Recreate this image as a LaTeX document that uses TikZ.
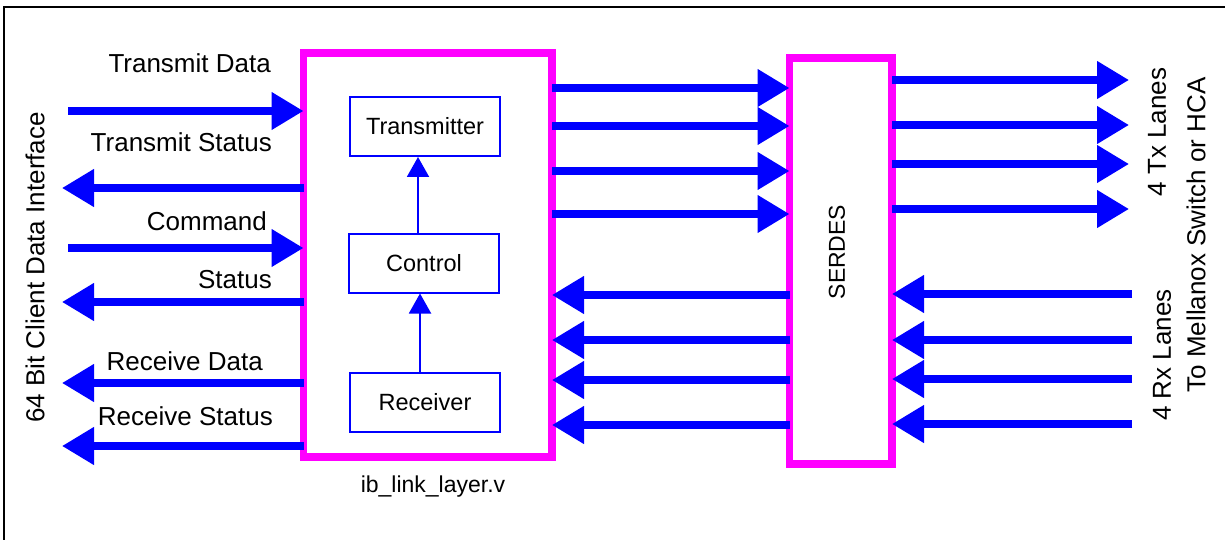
\documentclass[tikz,border=0pt]{standalone}
\usepackage{fontspec}
\setmainfont{Liberation Sans}
\usepackage{xcolor}
\usepackage{tikz}
\usetikzlibrary{positioning,arrows.meta}
\definecolor{cMag}{HTML}{FF00FF}
\definecolor{cBus}{HTML}{0000FF}
\newcommand{\lblfont}{\fontsize{26}{30}\selectfont}
\newcommand{\boxfont}{\fontsize{23.5}{28}\selectfont}

\begin{document}
\begin{tikzpicture}[x=1pt,y=-1pt]
  \tikzset{
    blk/.style={draw=cMag, line width=7.5pt, outer sep=0pt, inner sep=0pt},
    sub/.style={draw=cBus, line width=2pt, minimum width=150pt, minimum height=59pt,
      inner sep=0pt, font=\boxfont},
    bus/.style={draw=cBus, line width=7.5pt, -{Triangle[length=32pt,width=36pt]}},
    ctl/.style={draw=cBus, line width=2pt, -{Triangle[length=20pt,width=22pt]}},
    lbl/.style={inner sep=0pt, font=\lblfont, anchor=base east},
    side/.style={inner sep=0pt, font=\lblfont, rotate=90},
  }
  \useasboundingbox (0,0) rectangle (1225,540);
  \draw[line width=2.5pt] (4,540) -- (4,7) -- (1225,7);
  % link layer and its blocks
  \node[blk, minimum width=248.5pt, minimum height=404pt] (link) at (427.75,255) {};
  \node[sub] (tx) at (425,126.5) {Transmitter};
  \node[sub] (ctrl) at (424,263) {Control};
  \node[sub] (rx) at (425,402) {Receiver};
  \draw[ctl] (ctrl.north -| 418,0) -- (tx.south -| 418,0);
  \draw[ctl] (rx.north -| 420,0) -- (ctrl.south -| 420,0);
  \node[inner sep=0pt, font=\fontsize{23}{28}\selectfont] (fname) at (433,487) {ib\_link\_layer.v};
  % serdes
  \node[blk, minimum width=102.5pt, minimum height=406pt] (serdes) at (840.75,261) {};
  \node[inner sep=0pt, font=\fontsize{23}{28}\selectfont, rotate=90] (sname) at (837,252) {SERDES};
  % client side
  \node[side] (client) at (35,267.5) {64 Bit Client Data Interface};
  \node[lbl] (ltd) at (271,73) {Transmit Data};
  \node[lbl] (lts) at (272,152) {Transmit Status};
  \node[lbl] (lcmd) at (267,230) {Command};
  \node[lbl] (lst) at (272,288) {Status};
  \node[lbl] (lrd) at (263,370) {Receive Data};
  \node[lbl] (lrs) at (273,425) {Receive Status};
  \foreach \y [count=\i] in {111,248} {
    \coordinate (cin\i) at (68,\y);
    \draw[bus] (cin\i) -- (cin\i -| link.west);
  }
  \foreach \y [count=\i] in {188,302,383,446} {
    \coordinate (cout\i) at (62,\y);
    \draw[bus] (cout\i -| link.west) -- (cout\i);
  }
  % link layer <-> serdes
  \foreach \y in {88,126,171,214} {
    \draw[bus] (link.east |- 0,\y) -- (serdes.west |- 0,\y);
  }
  \foreach \y in {295,340,380,425} {
    \draw[bus] (serdes.west |- 0,\y) -- (link.east |- 0,\y);
  }
  % lanes
  \foreach \y [count=\i] in {80,125,164,209} {
    \coordinate (txl\i) at (1129,\y);
    \draw[bus] (txl\i -| serdes.east) -- (txl\i);
  }
  \foreach \y [count=\i] in {294,340,379,424} {
    \coordinate (rxl\i) at (1132,\y);
    \draw[bus] (rxl\i) -- (rxl\i -| serdes.east);
  }
  \node[side] (ltx) at (1157,132) {4 Tx Lanes};
  \node[side] (lrx) at (1162,355) {4 Rx Lanes};
  \node[side] (lto) at (1196,235) {To Mellanox Switch or HCA};
\end{tikzpicture}
\end{document}
